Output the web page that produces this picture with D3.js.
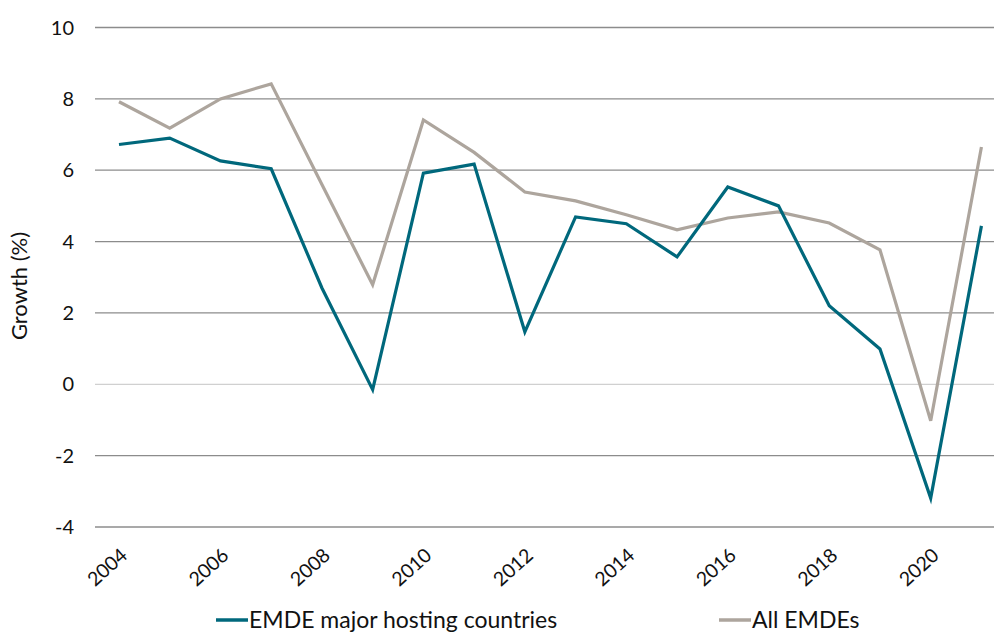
<!DOCTYPE html>
<html><head><meta charset="utf-8">
<script src="https://cdn.jsdelivr.net/npm/d3@7"></script>
<style>body{margin:0;background:#fff}svg{display:block}text{font-family:Lato,"Open Sans",sans-serif;fill:#111}</style>
</head><body><svg id="c" width="994" height="632"></svg>
<script>
const years = [2004,2005,2006,2007,2008,2009,2010,2011,2012,2013,2014,2015,2016,2017,2018,2019,2020,2021];
const hosting = [6.72,6.90,6.26,6.04,2.70,-0.15,5.92,6.17,1.47,4.69,4.50,3.57,5.53,5.00,2.20,0.99,-3.19,4.44];
const allEmde = [7.92,7.18,8.00,8.42,5.60,2.79,7.41,6.50,5.39,5.14,4.75,4.33,4.66,4.83,4.52,3.77,-1.02,6.65];
const yTicks = [-4,-2,0,2,4,6,8,10];
const xTicks = [2004,2006,2008,2010,2012,2014,2016,2018,2020];
const seriesNames = ["EMDE major hosting countries","All EMDEs"];
const colors = ["#00687C","#ADA59D"];

const svg = d3.select("#c");
const x = d3.scaleLinear().domain([2004,2020]).range([119,930.7]);
const y = d3.scaleLinear().domain([-4,10]).range([527,27.5]);

// gridlines
svg.append("g").selectAll("line").data(yTicks).join("line")
  .attr("x1",95).attr("x2",994)
  .attr("y1",d=>y(d)).attr("y2",d=>y(d))
  .attr("stroke",d=>d===0?"#d0d0d0":"#8c8c8c").attr("stroke-width",1.3);

// y tick labels
svg.append("g").selectAll("text").data(yTicks).join("text")
  .attr("x",74).attr("y",d=>y(d)).attr("dy","0.35em")
  .attr("text-anchor","end").style("font-size","20px").text(d=>d);

// x tick labels
svg.append("g").selectAll("text").data(xTicks).join("text")
  .attr("transform",d=>`translate(${x(d)+5},${552}) rotate(-42)`)
  .attr("text-anchor","end").attr("dy","0.35em").style("font-size","19.5px").text(d=>d);

// y title
svg.append("text").attr("transform","translate(27,286) rotate(-90)")
  .attr("text-anchor","middle").style("font-size","22px").text("Growth (%)");

const line = d3.line().x((d,i)=>x(years[i])).y(d=>y(d));
[allEmde,hosting].forEach((s,k)=>{
  svg.append("path").datum(s).attr("d",line).attr("fill","none")
    .attr("stroke",k===0?colors[1]:colors[0]).attr("stroke-width",3.2)
    .attr("stroke-linejoin","miter");
});

// legend
const leg = [{x:216,name:seriesNames[0],c:colors[0]},{x:719,name:seriesNames[1],c:colors[1]}];
leg.forEach(l=>{
  svg.append("line").attr("x1",l.x).attr("x2",l.x+32).attr("y1",620).attr("y2",620)
    .attr("stroke",l.c).attr("stroke-width",3.5);
  svg.append("text").attr("x",l.x+33).attr("y",620).attr("dy","0.35em")
    .style("font-size","23px").text(l.name);
});
</script></body></html>
